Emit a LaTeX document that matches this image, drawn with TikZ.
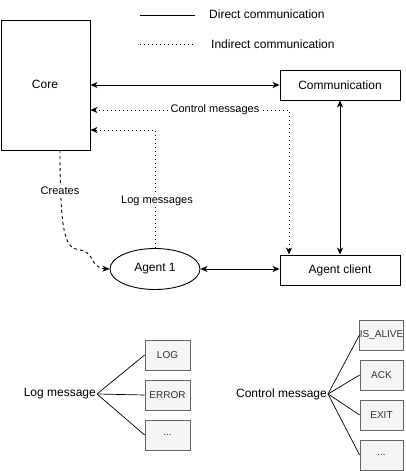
\documentclass[tikz,border=0pt]{standalone}
\usepackage{fontspec}
\setmainfont{Liberation Sans}
\usetikzlibrary{arrows.meta,shapes.geometric}
\definecolor{boxfill}{HTML}{F5F5F5}
\definecolor{boxline}{HTML}{666666}
\definecolor{boxtext}{HTML}{333333}
\tikzset{
  plain/.style={draw=black,line width=0.9pt,fill=white,inner sep=0pt,font=\fontsize{12}{14}\selectfont},
  lbl/.style={inner sep=1pt,font=\fontsize{12}{14}\selectfont},
  wlbl/.style={fill=white,inner sep=1pt,font=\fontsize{11}{13}\selectfont},
  graybox/.style={draw=boxline,fill=boxfill,text=boxtext,line width=0.8pt,minimum width=45pt,minimum height=30pt,inner sep=0pt,font=\fontsize{10}{12}\selectfont},
  conn/.style={line width=0.9pt},
  dotline/.style={line width=0.9pt,dash pattern=on 1pt off 3pt},
  dashline/.style={line width=0.9pt,dash pattern=on 3pt off 3pt},
  tip/.style={arrows={-Stealth[length=7pt,width=6pt,inset=2pt]}},
  bitip/.style={arrows={Stealth[length=7pt,width=6pt,inset=2pt]-Stealth[length=7pt,width=6pt,inset=2pt]}},
  fan/.style={line width=0.7pt},
}
\begin{document}
\begin{tikzpicture}[x=1pt,y=-1pt]
\useasboundingbox (0,0) rectangle (406,471);
% legend
\coordinate (l1a) at (140,15);
\coordinate (l1b) at (195,15);
\coordinate (l2a) at (140,44);
\coordinate (l2b) at (195,44);
\draw[conn,line width=0.7pt] (l1a) -- (l1b);
\draw[dotline,line width=0.7pt] (l2a) -- (l2b);
\node[lbl,anchor=west] (ldirect) at (208,14) {Direct communication};
\node[lbl,anchor=west] (lindirect) at (210,44) {Indirect communication};
% nodes
\node[plain,minimum width=89pt,minimum height=130pt] (core) at (45.5,85) {};
\node[lbl] (coretext) at (45,84) {Core};
\node[plain,minimum width=120pt,minimum height=30pt] (comm) at (340,85) {Communication};
\node[plain,minimum width=120pt,minimum height=30pt] (ac) at (340,270) {Agent client};
\node[plain,ellipse,minimum width=90pt,minimum height=41pt] (a1) at (155,269) {Agent 1};
% connectors
\draw[conn,bitip] (core.east |- comm.west) -- (comm.west);
\draw[conn,bitip] (comm.south) -- (ac.north);
\draw[conn,bitip] (a1.east) -- (a1.east -| ac.west);
\coordinate (cm) at (289,110);
\draw[dotline,bitip] (core.east |- cm) -- (cm) -- (cm |- ac.north);
\node[wlbl] (cmlbl) at (215,110) {Control messages};
\coordinate (lm) at (155,130);
\draw[dotline,tip] (a1.north) -- (lm) -- (core.east |- lm);
\node[wlbl] (lmlbl) at (157,201) {Log messages};
\coordinate (cr1) at (80,250);
\draw[dashline,tip] (60,150) .. controls (60,240) and (66,248) .. (cr1) .. controls (95,252) and (90,268) .. (a1.west);
\node[wlbl] (crlbl) at (60,191) {Creates};
% bottom
\node[lbl,anchor=east] (logm) at (97,394) {Log message};
\node[graybox] (log) at (167.5,355) {LOG};
\node[graybox] (err) at (167.5,395) {ERROR};
\node[graybox] (ld) at (167.5,435) {...};
\foreach \b in {log,err,ld} \draw[fan] (logm.east) -- (\b.west);
\node[lbl,anchor=east] (ctlm) at (328,394) {Control message};
\node[graybox,minimum width=43pt] (isal) at (381.5,335) {IS\_ALIVE};
\node[graybox,minimum width=43pt] (ack) at (381.5,375) {ACK};
\node[graybox,minimum width=43pt] (exit) at (381.5,415) {EXIT};
\node[graybox,minimum width=43pt] (cd) at (381.5,455) {...};
\foreach \b in {isal,ack,exit,cd} \draw[fan] (ctlm.east) -- (\b.west);
\end{tikzpicture}
\end{document}
